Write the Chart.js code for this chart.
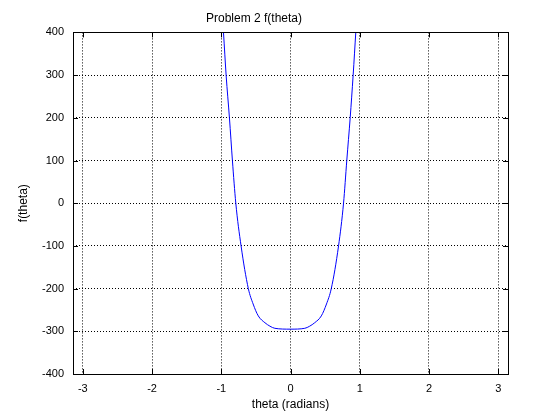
<!DOCTYPE html>
<html>
<head>
<meta charset="utf-8">
<script src="https://cdn.jsdelivr.net/npm/chart.js@4/dist/chart.umd.min.js"></script>
<style>
  body { margin: 0; background: #fff; }
  #wrap { width: 560px; height: 420px; }
</style>
</head>
<body>
<div id="wrap"><canvas id="chart" width="560" height="420"></canvas></div>
<script>
// values
const theta = [-1.0, -0.968, -0.93, -0.882, -0.839, -0.79, -0.714, -0.609, -0.54, -0.465, -0.369, -0.297, -0.226, 0, 0.206, 0.277, 0.349, 0.445, 0.52, 0.589, 0.694, 0.766, 0.813, 0.862, 0.905, 0.943, 0.98];
const fTheta = [480, 400, 300, 200, 100, 0, -100, -200, -236, -264, -280, -288, -293, -295, -293, -288, -280, -264, -236, -200, -100, 0, 100, 200, 300, 400, 490];

const xTicks = [-3, -2, -1, 0, 1, 2, 3];
const yTicks = [-400, -300, -200, -100, 0, 100, 200, 300, 400];

const fontFam = "'Liberation Sans', Arial, Helvetica, sans-serif";

const points = theta.map((t, i) => ({ x: t, y: fTheta[i] }));

// box round the axes plus small inward ticks, like matlab
const boxPlugin = {
	id: "box",
	afterDraw(chart) {
		const ctx = chart.ctx;
		const a = chart.chartArea;
		const xs = chart.scales.x;
		const ys = chart.scales.y;
		ctx.save();
		ctx.strokeStyle = "#000";
		ctx.lineWidth = 1;
		ctx.setLineDash([]);
		ctx.beginPath();
		xTicks.forEach((v) => {
			const px = Math.round(xs.getPixelForValue(v)) + 0.5;
			ctx.moveTo(px, a.bottom);
			ctx.lineTo(px, a.bottom - 5);
			ctx.moveTo(px, a.top);
			ctx.lineTo(px, a.top + 5);
		});
		yTicks.forEach((v) => {
			const py = Math.round(ys.getPixelForValue(v)) + 0.5;
			ctx.moveTo(a.left, py);
			ctx.lineTo(a.left + 5, py);
			ctx.moveTo(a.right, py);
			ctx.lineTo(a.right - 5, py);
		});
		ctx.stroke();
		ctx.strokeRect(Math.round(a.left) + 0.5, Math.round(a.top) + 0.5,
			Math.round(a.right - a.left), Math.round(a.bottom - a.top));
		ctx.restore();
	},
};

const ctx = document.getElementById("chart").getContext("2d");
const chart = new Chart(ctx, {
	type: "scatter",
	data: {
		datasets: [
			{
				label: "f(theta)",
				data: points,
				showLine: true,
				borderColor: "#0000ff",
				backgroundColor: "#0000ff",
				borderWidth: 1,
				pointRadius: 0,
				cubicInterpolationMode: "monotone",
			},
		],
	},
	options: {
		responsive: false,
		animation: false,
		layout: {
			padding: { left: 0, right: 52, top: 0, bottom: 0 },
		},
		plugins: {
			legend: { display: false },
			tooltip: { enabled: false },
			title: {
				display: true,
				text: "Problem 2 f(theta)",
				color: "#000",
				font: { family: fontFam, size: 12, weight: "normal" },
				padding: { top: 11, bottom: 7 },
			},
		},
		scales: {
			x: {
				type: "linear",
				min: -Math.PI,
				max: Math.PI,
				afterBuildTicks: (s) => {
					s.ticks = xTicks.map((v) => ({ value: v }));
				},
				afterFit: (s) => {
					s.height = 46;
				},
				grid: { color: "#000", lineWidth: 1, drawTicks: false },
				border: { display: false, dash: [1, 2] },
				ticks: {
					color: "#000",
					padding: 8,
					font: { family: fontFam, size: 11 },
					maxRotation: 0,
				},
				title: {
					display: true,
					text: "theta (radians)",
					color: "#000",
					font: { family: fontFam, size: 12 },
					padding: { top: 2, bottom: 8 },
				},
			},
			y: {
				min: -400,
				max: 400,
				afterBuildTicks: (s) => {
					s.ticks = yTicks.map((v) => ({ value: v }));
				},
				afterFit: (s) => {
					s.width = 73;
				},
				grid: { color: "#000", lineWidth: 1, drawTicks: false },
				border: { display: false, dash: [1, 2] },
				ticks: {
					color: "#000",
					padding: 9,
					font: { family: fontFam, size: 11 },
				},
				title: {
					display: true,
					text: "f(theta)",
					color: "#000",
					font: { family: fontFam, size: 12 },
					padding: { top: 16, bottom: 0 },
				},
			},
		},
	},
	plugins: [boxPlugin],
});
</script>
</body>
</html>
